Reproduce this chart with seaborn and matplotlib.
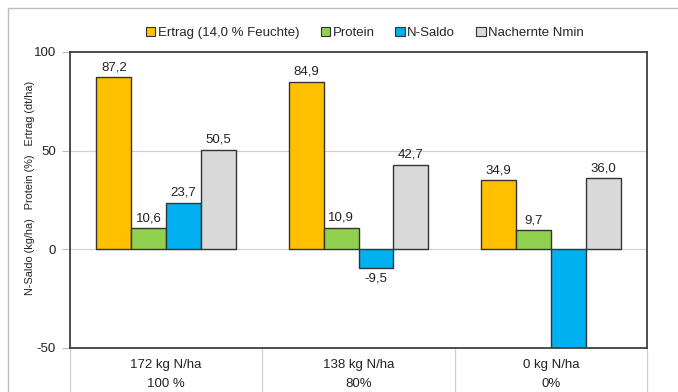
import matplotlib
matplotlib.use("Agg")
import matplotlib.pyplot as plt
from matplotlib.patches import Patch
from matplotlib.lines import Line2D
import seaborn as sns
import pandas as pd

# Data
categories = ["172 kg N/ha\n100 %", "138 kg N/ha\n80%", "0 kg N/ha\n0%"]
series = ["Ertrag (14,0 % Feuchte)", "Protein", "N-Saldo", "Nachernte Nmin"]
ertrag = [87.2, 84.9, 34.9]
protein = [10.6, 10.9, 9.7]
n_saldo = [23.7, -9.5, -62.0]
nmin = [50.5, 42.7, 36.0]
colors = ["#FFC000", "#92D050", "#00B0F0", "#D9D9D9"]

values = [ertrag, protein, n_saldo, nmin]
rows = []
for s, vals in zip(series, values):
    for c, v in zip(categories, vals):
        rows.append({"Kategorie": c, "Serie": s, "Wert": v})
df = pd.DataFrame(rows)

sns.set_theme(style="white")
plt.rcParams["font.family"] = ["Liberation Sans", "DejaVu Sans"]

fig = plt.figure(figsize=(6.78, 3.92), dpi=100)
ax = fig.add_axes([70 / 678, 1 - 348 / 392, 577 / 678, 296 / 392])

sns.barplot(data=df, x="Kategorie", y="Wert", hue="Serie", order=categories,
            hue_order=series, palette=colors, width=0.725, edgecolor="#333333",
            linewidth=1.0, saturation=1, legend=False, ax=ax, errorbar=None)

ax.set_ylim(-50, 100)
ax.set_xlim(-0.5, 2.5)
ax.set_yticks([-50, 0, 50, 100])
ax.set_yticklabels(["-50", "0", "50", "100"], fontsize=9.5, color="#222222")
ax.tick_params(axis="y", length=6, width=0.8, color="#BFBFBF", pad=4, left=True)
ax.tick_params(axis="x", length=0, pad=8, labelsize=9.5, labelcolor="#222222")
for lbl in ax.get_xticklabels():
    lbl.set_linespacing(1.75)
    lbl.set_verticalalignment("top")
ax.set_xlabel("")
ax.set_ylabel("")

for y in (0, 50):
    ax.axhline(y, color="#D0D0D0", linewidth=0.9, zorder=0)

for sp in ax.spines.values():
    sp.set_color("#404040")
    sp.set_linewidth(1.3)

# value labels
for container, vals in zip(ax.containers, values):
    labels = [("%.1f" % v).replace(".", ",") if v >= -50 else "" for v in vals]
    ax.bar_label(container, labels=labels, padding=3, fontsize=9.5, color="#222222")

# category separators below the plot area
trans = ax.get_xaxis_transform()
for xpos in (-0.5, 0.5, 1.5, 2.5):
    ax.add_line(Line2D([xpos, xpos], [0, -44 / 296], transform=trans,
                       color="#D0D0D0", linewidth=0.9, clip_on=False))

fig.text(30 / 678, 1 - 188 / 392,
         "N-Saldo (kg/ha)   Protein (%)   Ertrag (dt/ha)",
         rotation=90, ha="center", va="center", fontsize=7.8, color="#222222")

handles = [Patch(facecolor=c, edgecolor="#333333", linewidth=0.8) for c in colors]
fig.legend(handles, series, loc="center", bbox_to_anchor=(365 / 678, 1 - 33 / 392),
           ncol=4, frameon=False, fontsize=9.5, handlelength=0.7, handleheight=0.7,
           handletextpad=0.2, columnspacing=1.6, borderaxespad=0)

# outer chart border
fig.add_artist(Line2D([8 / 678, 8 / 678], [0, 1 - 8 / 392], transform=fig.transFigure,
                      color="#BFBFBF", linewidth=1))
fig.add_artist(Line2D([8 / 678, 1], [1 - 8 / 392, 1 - 8 / 392], transform=fig.transFigure,
                      color="#BFBFBF", linewidth=1))

fig.savefig("out.png", dpi=100)
